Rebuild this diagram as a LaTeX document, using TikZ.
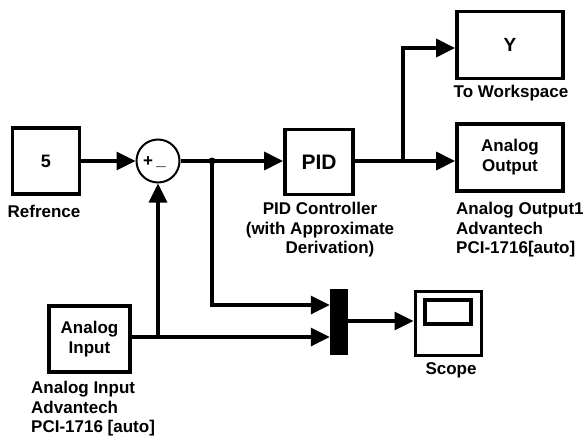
\documentclass[tikz,border=0pt]{standalone}
\usepackage{fontspec}
\setmainfont{Liberation Sans}
\usetikzlibrary{arrows.meta}
\begin{document}
\begin{tikzpicture}[x=1pt,y=-1pt,
  blk/.style={draw, line width=3.8pt, inner sep=0pt, align=center,
    font=\bfseries\fontsize{17}{20}\selectfont},
  lbl/.style={inner sep=0pt, font=\bfseries\fontsize{17}{19.5}\selectfont},
  wire/.style={line width=3.3pt},
  sig/.style={wire, -{Triangle[length=19pt,width=18pt]}}]
  \useasboundingbox (0,0) rectangle (585,441);

  % blocks
  \node[blk, minimum width=67pt, minimum height=66pt, font=\bfseries\fontsize{18}{18}\selectfont] (ref) at (46,161) {5};
  \node[draw, circle, line width=2pt, minimum size=43pt, inner sep=0pt] (sum) at (158,161) {};
  \node[font=\bfseries\fontsize{17}{17}\selectfont, inner sep=0pt] (plus) at (148,162) {+};
  \node[font=\bfseries\fontsize{17}{17}\selectfont, inner sep=0pt] (minus) at (161,167) {\_};
  \node[blk, minimum width=68pt, minimum height=65pt, font=\bfseries\fontsize{21}{21}\selectfont] (pid) at (319,162) {PID};
  \node[blk, minimum width=106pt, minimum height=67pt, font=\bfseries\fontsize{19}{19}\selectfont] (ws) at (510,45) {Y};
  \node[blk, minimum width=106pt, minimum height=67pt] (ao) at (510,157.5) {Analog\\Output};
  \node[blk, minimum width=81pt, minimum height=66pt] (ain) at (89.5,339) {Analog\\Input};
  \node[fill=black, draw=black, minimum width=17pt, minimum height=65pt, inner sep=0pt] (mux) at (338.5,321.5) {};
  \node[draw, line width=3pt, minimum width=66pt, minimum height=64pt, inner sep=0pt] (scope) at (448,323) {};
  \node[draw, line width=3.2pt, minimum width=46pt, minimum height=24pt, inner sep=0pt] (screen) at (448,312) {};

  % labels
  \node[lbl] (reflbl) at (44,211) {Refrence};
  \node[lbl, anchor=north, align=center] (pidlbl) at (320,202) {PID Controller\\(with Approximate\\\hspace*{20pt}Derivation)};
  \node[lbl] (wslbl) at (511,93) {To Workspace};
  \node[lbl, anchor=north west, align=left] (aolbl) at (456,202) {Analog Output1\\Advantech\\PCI-1716[auto]};
  \node[lbl] (scopelbl) at (451,370) {Scope};
  \node[lbl, anchor=north west, align=left] (ainlbl) at (31,381) {Analog Input\\Advantech\\PCI-1716 [auto]};

  % branch points
  \coordinate (br1) at (212,161);
  \coordinate (br2) at (403,161);
  \coordinate (br3) at (158,337);

  % connectors
  \draw[sig] (ref.east |- 0,161) -- (sum.west);
  \draw[wire] (sum.east) -- (br1);
  \draw[sig] (br1) -- (pid.west |- br1);
  \fill (br1) circle (3.5pt);
  \draw[wire] (pid.east |- br2) -- (br2);
  \draw[sig] (br2) |- (ws.west |- 0,48);
  \draw[sig] (br2) -- (ao.west |- br2);
  \draw[sig] (br1) |- (mux.west |- 0,305);
  \draw[wire] (ain.east |- br3) -- (br3);
  \draw[sig] (br3) -- (sum.south);
  \draw[sig] (br3) -- (mux.west |- br3);
  \draw[sig] (mux.east |- 0,321) -- (scope.west |- 0,321);
\end{tikzpicture}
\end{document}
